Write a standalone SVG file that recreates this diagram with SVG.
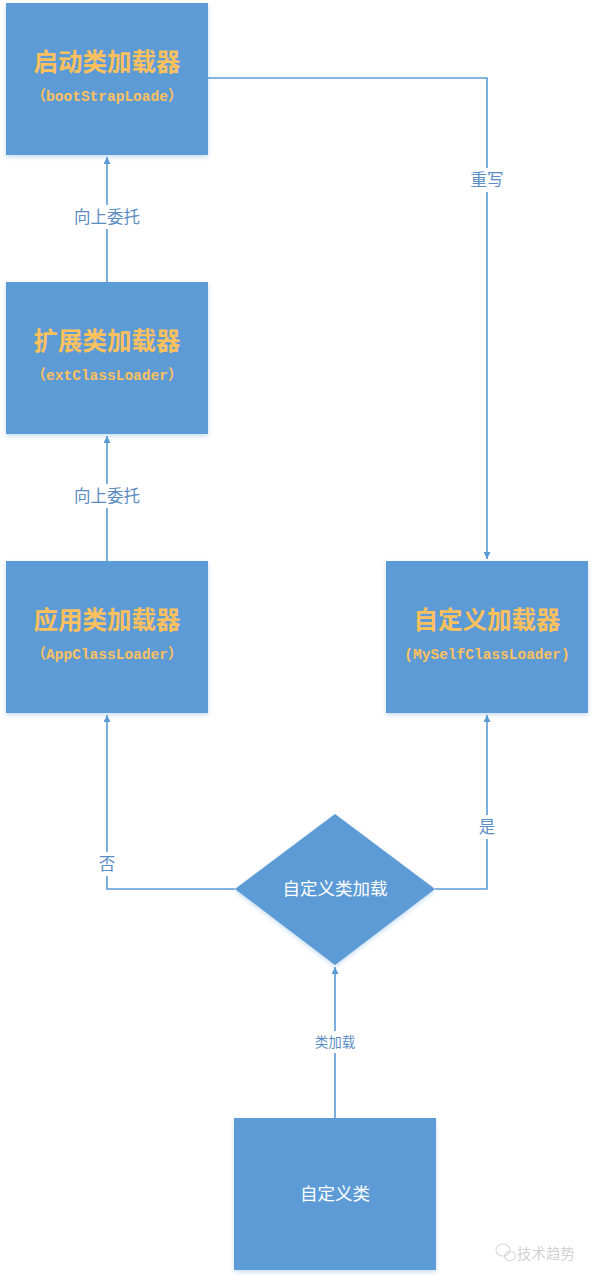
<svg xmlns="http://www.w3.org/2000/svg" width="595" height="1280" viewBox="0 0 595 1280">
<style>
.node{fill:#5B9BD5;filter:url(#sh)}
.t{font-family:"Noto Sans CJK SC","Noto Sans",sans-serif;font-size:24.5px;font-weight:bold;fill:#FFC15E;text-anchor:middle}
.s{font-family:"Liberation Mono","Noto Sans CJK SC",monospace;font-size:14.5px;font-weight:bold;fill:#FFC15E;text-anchor:middle}
.w{font-family:"Noto Sans CJK SC","Noto Sans",sans-serif;font-size:17.5px;fill:#FFFFFF;text-anchor:middle}
.l{font-family:"Noto Sans CJK SC","Noto Sans",sans-serif;font-size:16.5px;fill:#5B8DC3;text-anchor:middle}
.ls{font-size:13.5px}
.c{fill:none;stroke:#5B9BD5;stroke-width:1.6}
.bg{fill:#FFFFFF}
</style>
<defs>
<filter id="sh" x="-10%" y="-10%" width="120%" height="120%">
<feDropShadow dx="0" dy="2" stdDeviation="2" flood-color="#5B9BD5" flood-opacity="0.35"/>
</filter>
<marker id="a" viewBox="0 0 10 10" refX="10" refY="5" markerWidth="7" markerHeight="7" orient="auto" markerUnits="userSpaceOnUse">
<path d="M0,0 L10,5 L0,10 z" fill="#5B9BD5"/>
</marker>
</defs>
<rect width="595" height="1280" fill="#FFFFFF"/>
<g id="connectors">
<path class="c" d="M208,78 H487 V559" marker-end="url(#a)"/>
<rect class="bg" x="466" y="168" width="42" height="24"/>
<text class="l" x="487" y="186">重写</text>
<path class="c" d="M107,282 V157" marker-end="url(#a)"/>
<rect class="bg" x="68" y="205" width="78" height="24"/>
<text class="l" x="107" y="223">向上委托</text>
<path class="c" d="M107,561 V436" marker-end="url(#a)"/>
<rect class="bg" x="68" y="484" width="78" height="24"/>
<text class="l" x="107" y="502">向上委托</text>
<path class="c" d="M235,889 H107 V715" marker-end="url(#a)"/>
<rect class="bg" x="96" y="852" width="22" height="24"/>
<text class="l" x="107" y="870">否</text>
<path class="c" d="M435,889 H487 V715" marker-end="url(#a)"/>
<rect class="bg" x="476" y="815" width="22" height="24"/>
<text class="l" x="487" y="833">是</text>
<path class="c" d="M335,1118 V967" marker-end="url(#a)"/>
<rect class="bg" x="310" y="1031" width="50" height="22"/>
<text class="l ls" x="335" y="1047">类加载</text>
</g>
<g id="bootstrap">
<rect class="node" x="6" y="3" width="202" height="152"/>
<text class="t" x="107" y="71">启动类加载器</text>
<text class="s" x="107" y="101">（bootStrapLoade）</text>
</g>
<g id="ext">
<rect class="node" x="6" y="282" width="202" height="152"/>
<text class="t" x="107" y="350">扩展类加载器</text>
<text class="s" x="107" y="380">（extClassLoader）</text>
</g>
<g id="app">
<rect class="node" x="6" y="561" width="202" height="152"/>
<text class="t" x="107" y="629">应用类加载器</text>
<text class="s" x="107" y="659">（AppClassLoader）</text>
</g>
<g id="custom-loader">
<rect class="node" x="386" y="561" width="202" height="152"/>
<text class="t" x="487" y="629">自定义加载器</text>
<text class="s" x="487" y="659">(MySelfClassLoader)</text>
</g>
<g id="decision">
<path class="node" d="M335,814 L435,889 L335,965 L235,889 z"/>
<text class="w" x="335" y="895">自定义类加载</text>
</g>
<g id="custom-class">
<rect class="node" x="234" y="1118" width="202" height="152"/>
<text class="w" x="335" y="1200">自定义类</text>
</g>
<g id="watermark" opacity="0.55">
<ellipse cx="503" cy="1250" rx="7" ry="6" fill="none" stroke="#BBBBBB" stroke-width="1.2"/>
<ellipse cx="510" cy="1256" rx="5.5" ry="4.5" fill="none" stroke="#BBBBBB" stroke-width="1.2"/>
<text x="546" y="1259" font-family="Noto Sans CJK SC,sans-serif" font-size="14.5" fill="#AAAAAA" text-anchor="middle">技术趋势</text>
</g>
</svg>
